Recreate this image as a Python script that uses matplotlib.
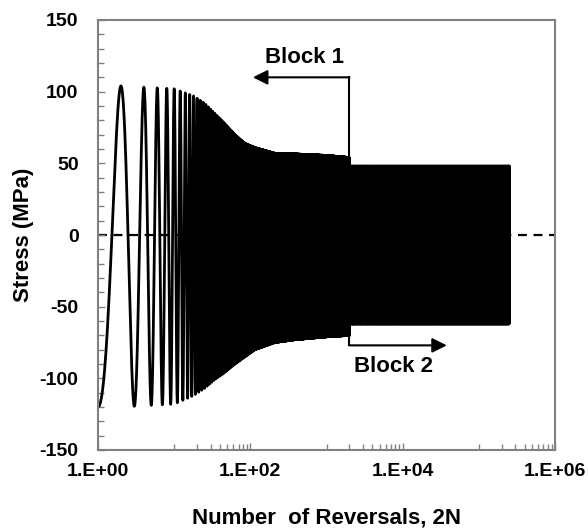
import numpy as np
import matplotlib.pyplot as plt
from matplotlib.ticker import FixedLocator, FuncFormatter, MultipleLocator

plt.rcParams['font.family'] = ['Liberation Sans', 'DejaVu Sans']
plt.rcParams['font.weight'] = 'bold'
plt.rcParams['axes.unicode_minus'] = False

# Block 1: envelope of the stress history (reversal count, peak, valley)
block1_reversals = [1, 2, 10, 18, 25, 34, 46, 63, 85, 115, 210, 385, 1000, 2000]
block1_peak = [104, 104, 102, 97, 92, 85, 78, 70, 64, 61, 57, 56.5, 55.5, 54]
block1_valley = [-120, -120, -118, -112, -107, -101, -96, -90, -85, -80, -75, -73, -71, -70]

# Block 2: constant amplitude until the end of the test
block2_start = 2000
block2_end = 250000
block2_peak = 48
block2_valley = -62

# arrow annotations
block1_arrow = dict(x=2000, y0=54, y1=110, tip=108, label_x=520, label_y=124)
block2_arrow = dict(x=2000, y0=-63, y1=-77, tip=38000, label_x=7600, label_y=-92)

# stress at every reversal: odd reversals are valleys, even ones peaks
n = np.arange(1, block2_end + 1)
logn = np.log10(n)
peak = np.where(n <= block2_start,
                np.interp(logn, np.log10(block1_reversals), block1_peak),
                block2_peak)
valley = np.where(n <= block2_start,
                  np.interp(logn, np.log10(block1_reversals), block1_valley),
                  block2_valley)
stress = np.where(n % 2 == 0, peak, valley)

# smooth half-cycles for the first reversals, straight segments afterwards
n_smooth = 200
s = np.linspace(0, 1, 40, endpoint=False)
x_s = (n[:n_smooth - 1, None] + s[None, :]).ravel()
v0 = stress[:n_smooth - 1, None]
v1 = stress[1:n_smooth, None]
y_s = (v0 + (v1 - v0) * (1 - np.cos(np.pi * s[None, :])) / 2).ravel()
x_all = np.concatenate([x_s, n[n_smooth - 1:]])
y_all = np.concatenate([y_s, stress[n_smooth - 1:]])

fig = plt.figure(figsize=(5.88, 5.31), dpi=100)
ax = fig.add_axes([98 / 588, 1 - 450 / 531, 457 / 588, 430 / 531])

ax.axhline(0, color='black', lw=1.6, ls=(0, (4, 3)), zorder=1)
ax.plot(x_all, y_all, color='black', lw=2, zorder=2)

# arrows marking the two loading blocks
a = block1_arrow
ax.plot([a['x'], a['x']], [a['y0'], a['y1']], color='black', lw=1.5)
ax.annotate('', xy=(a['tip'], a['y1']), xytext=(a['x'], a['y1']),
            arrowprops=dict(arrowstyle='-|>', color='black', lw=1.5,
                            mutation_scale=22, shrinkA=0, shrinkB=0))
ax.text(a['label_x'], a['label_y'], 'Block 1', fontsize=16, fontweight='bold',
        ha='center', va='center')
b = block2_arrow
ax.plot([b['x'], b['x']], [b['y0'], b['y1']], color='black', lw=1.5)
ax.annotate('', xy=(b['tip'], b['y1']), xytext=(b['x'], b['y1']),
            arrowprops=dict(arrowstyle='-|>', color='black', lw=1.5,
                            mutation_scale=22, shrinkA=0, shrinkB=0))
ax.text(b['label_x'], b['label_y'], 'Block 2', fontsize=16, fontweight='bold',
        ha='center', va='center')

ax.set_xscale('log')
ax.set_xlim(1, 1e6)
ax.set_ylim(-150, 150)

ax.xaxis.set_major_locator(FixedLocator([1, 1e2, 1e4, 1e6]))
ax.xaxis.set_major_formatter(FuncFormatter(lambda v, p: f"1.E+{int(round(np.log10(v))):02d}"))
minor = [m * 10.0 ** d for d in (1, 3, 5) for m in range(1, 10)]
ax.xaxis.set_minor_locator(FixedLocator(minor))
ax.xaxis.set_minor_formatter(FuncFormatter(lambda v, p: ''))
ax.yaxis.set_major_locator(MultipleLocator(50))
ax.yaxis.set_minor_locator(MultipleLocator(10))

ax.tick_params(which='both', direction='in', color='#808080', width=1)
ax.tick_params(which='major', length=5, labelsize=14, pad=9)
ax.tick_params(which='minor', length=4)
ax.tick_params(axis='y', which='major', pad=14)
for sp in ax.spines.values():
    sp.set_color('#808080')
    sp.set_linewidth(1.5)

ax.set_xlabel('Number  of Reversals, 2N', fontsize=16, fontweight='bold', labelpad=20)
ax.set_ylabel('Stress (MPa)', fontsize=16, fontweight='bold', labelpad=4)

fig.savefig('out.png', dpi=100)
